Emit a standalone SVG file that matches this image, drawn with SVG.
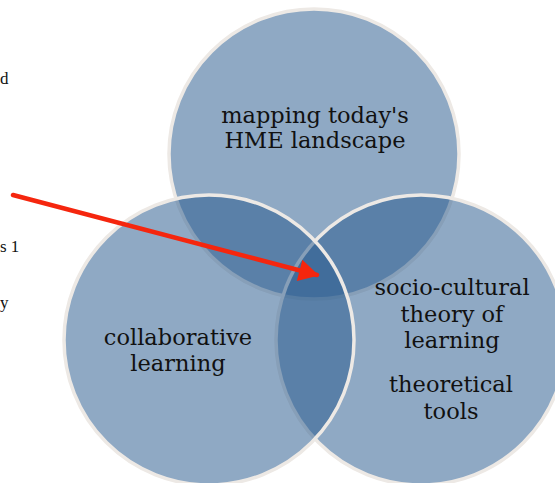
<svg xmlns="http://www.w3.org/2000/svg" width="555" height="483" viewBox="0 0 555 483">
<style>
.c{fill:rgb(43,92,143);fill-opacity:0.53;stroke:#ede9e5;stroke-width:3.5}
.t{font-family:"DejaVu Serif","Liberation Serif",serif;font-size:22.5px;fill:#111;text-anchor:middle}
.side{font-family:"Liberation Serif","DejaVu Serif",serif;font-size:17px;fill:#111}
</style>
<defs>
<marker id="ah" markerUnits="userSpaceOnUse" markerWidth="22" markerHeight="22" viewBox="0 0 20 22" refX="18" refY="11" orient="auto">
<path d="M0,0 L20,11 L0,22 Z" fill="#f5260e"/>
</marker>
</defs>
<g id="side-text">
<text class="side" x="0" y="84">d</text>
<text class="side" x="0" y="252">s 1</text>
<text class="side" x="0" y="308">y</text>
</g>
<g id="node-top">
<circle class="c" cx="314" cy="154" r="145"/>
<text class="t" x="315" y="123">mapping today's</text>
<text class="t" x="315" y="148">HME landscape</text>
</g>
<g id="node-right">
<circle class="c" cx="421" cy="340" r="145"/>
<text class="t" x="452" y="295">socio-cultural</text>
<text class="t" x="452" y="322">theory of</text>
<text class="t" x="452" y="348">learning</text>
<text class="t" x="451" y="392">theoretical</text>
<text class="t" x="451" y="419">tools</text>
</g>
<g id="node-left">
<circle class="c" cx="209" cy="340" r="145"/>
<text class="t" x="178" y="345">collaborative</text>
<text class="t" x="178" y="371">learning</text>
</g>
<g id="connectors">
<line x1="13" y1="195" x2="317" y2="275" stroke="#f5260e" stroke-width="4.5" stroke-linecap="round" marker-end="url(#ah)"/>
</g>
</svg>
